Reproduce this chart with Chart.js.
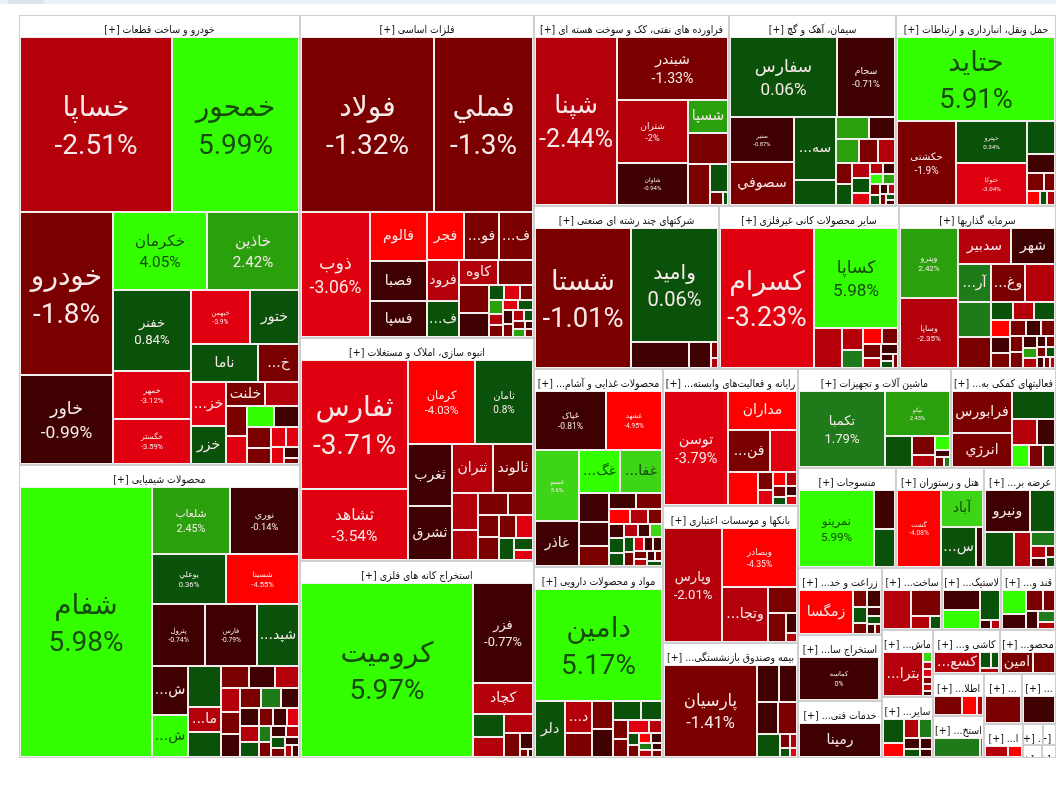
<!DOCTYPE html>
<html><head><meta charset="utf-8">
<script src="https://cdn.jsdelivr.net/npm/chart.js@4.4.1/dist/chart.umd.min.js"></script>
<style>
html,body{margin:0;padding:0;background:#fff;}
#wrap{position:relative;width:1056px;height:785px;overflow:hidden;}
#band{position:absolute;left:0;top:0;width:1056px;height:4px;background:#edf2f7;}
#band2{position:absolute;left:8px;top:0;width:36px;height:4px;background:#dde5ee;}
canvas{position:absolute;left:0;top:0;}
</style></head><body>
<div id="wrap"><canvas id="c" width="1056" height="785"></canvas><div id="band"></div><div id="band2"></div></div>
<script>
// ---------------- DATA ----------------
const sectorNames = ['خودرو و ساخت قطعات','محصولات شیمیایی','فلزات اساسی','انبوه سازی، املاک و مستغلات','استخراج کانه های فلزی',
 'فراورده های نفتی، کک و سوخت هسته ای','سیمان، آهک و گچ','حمل ونقل، انبارداری و ارتباطات','شرکتهای چند رشته ای صنعتی','سایر محصولات کانی غیرفلزی',
 'سرمایه گذاریها','محصولات غذایی و آشامیدنی به جز قند و شکر','مواد و محصولات دارویی','رایانه و فعالیت‌های وابسته به آن','بانکها و موسسات اعتباری',
 'بیمه وصندوق بازنشستگی به جز تامین اجتماعی','ماشین آلات و تجهیزات','فعالیتهای کمکی به نهادهای مالی واسط','منسوجات','هتل و رستوران',
 'عرضه برق، گاز، بخاروآب گرم','زراعت و خدمات وابسته','استخراج سایر معادن','خدمات فنی و مهندسی','ساخت محصولات فلزی',
 'لاستیک و پلاستیک','قند و شکر','ماشین آلات و دستگاههای برقی','سایر واسطه گریهای مالی','کاشی و سرامیک',
 'محصولات کاغذی','اطلاعات و ارتباطات','استخراج نفت گاز و خدمات جنبی جز اکتشاف','تولید محصولات کامپیوتری الکترونیکی و نوری','فعالیت های هنری، سرگرمی و خلاقانه',
 'انتشار، چاپ و تکثیر','حمل و نقل آبی','خدمات','سایر','محصولات چوبی'];
const sectorValues = [126600,82200,75500,52200,46200,37150,31800,30400,30060,29400,25600,25500,24600,18630,18495,15525,15200,10500,9700,8800,
 7200,5600,5500,4750,3720,3700,3400,3380,3111,2928,2440,2150,2140,1891,1715,1323,414,270,252,180];

const s1n = ['خساپا','خمحور','خودرو','خاور','خکرمان','خاذین','خفنر','خمهر','خگستر','خبهمن','ختور','ناما','خشرق','خزامیا','خزر','خلنت'];
const s1v = [26300,21970,15000,8190,7220,7070,6225,3675,3525,3120,2600,2500,1530,1480,1290,924,812,625,609,551,525,483,399,300,247,228,165,99];
const s1c = [-2.51,5.99,-1.8,-0.99,4.05,2.42,0.84,-3.12,-3.59,-3.9,0.45,0.3,-1.5,-3.4,0.6,-1.6,-2.5,-1.5,-3.5,5.2,-0.5,-1.5,-1.4,-3.2,-3.3,-3.1,-0.6,-1.2];

const s2n = ['شفام','شلعاب','نوري','بوعلي','شسینا','پترول','فارس','شپدیس','شیراز','شگویا','','مارون'];
const s2v = [34432,5056,4416,3621,3550,3266,3124,2596,1748,1472,1288,806,780,598,540,500,440,420,418,418,380,352,342,300,280,260,240,220,200,180,160,150,140,120,100,90,80];
const s2c = [5.98,2.45,-0.14,0.36,-4.55,-0.74,-0.79,0.5,-0.6,5.1,0.4,-2.6,0.3,-1.4,-0.5,-2.4,-2.2,-1.6,-0.7,-1.3,1.4,-0.4,-0.3,-2.7,0.2,-1.1,-0.8,-3.6,1.2,-1.7,-0.2,-2.3,0.7,-1.9,-0.9,-2.8,-0.5];

const s3n = ['فولاد','فملي','ذوب','فالوم','فصبا','فسپا','فجر','فولاي','فنورد','فرود','فسازان','کاوه'];
const s3v = [22308,16731,8256,2646,2160,1944,1710,1620,1575,1302,1116,945,840,805,682,225,225,200,180,160,150,144,144,132,120,110,100,90,80,70,60];
const s3c = [-1.32,-1.3,-3.06,-4.4,-0.6,-0.7,-4.2,-1.6,-1.5,-2.3,0.4,-2.2,-1.5,-1.4,-0.5,0.6,-3.5,-1.5,2.4,-2.5,-1.2,-3.1,0.3,-0.8,-1.6,-2.2,0.5,-1.1,2.2,-0.4,-1.9];

const s4n = ['ثفارس','ثشاهد','کرمان','ثامان','ثغرب','ثشرق','ثتران','ثالوند'];
const s4v = [13208,7280,5360,4720,2604,2226,1930,1927,925,750,630,525,440,440,374,374,308,220,180];
const s4c = [-3.71,-3.54,-4.03,0.8,-0.6,-0.55,-2.4,-1.6,-2.3,-2.6,-1.4,-1.3,-1.5,-1.2,-1.7,-3.3,0.4,0.6,-3.4];

const s5n = ['کرومیت','فزر','کچاد'];
const s5v = [29575,6014,1860,713,620,551,360,208,70,40];
const s5c = [5.97,-0.77,-2.2,0.5,-2.4,-2.1,-1.5,-0.4,-1.3,-0.9];

const s6n = ['شپنا','شبندر','شتران','شاوان','شسپا'];
const s6v = [13114,6660,4278,2829,1312,1189,861,486,156,65];
const s6c = [-2.44,-1.33,-2,-0.94,2.4,-1.5,-1.6,0.5,-1.4,0.3];

const s7n = ['سفارس','سجام','سنیر','سصوفي','سهگمت'];
const s7v = [8056,4408,2700,2580,2520,960,680,540,506,418,396,308,308,255,255,204,140,130,130,117,100,90,80,70,60,50,40];
const s7c = [0.06,-0.71,-0.87,-1.5,0.4,0.5,2.3,-0.6,2.2,-1.6,-2.6,-1.4,0.4,-2.5,0.7,-3.2,-2.2,-0.4,4.5,2.1,-1.5,0.3,-0.7,-2.1,-1.2,0.8,-0.3];

const s8n = ['حتاید','حکشتی','حپترو','حتوکا'];
const s8v = [12874,4756,2930,2920,888,504,300,200,160,100,100];
const s8c = [5.91,-1.9,0.34,-3.04,0.5,-0.6,-1.3,-1.6,-4.5,0.4,-2.2];

const s9n = ['شستا','وامید'];
const s9v = [12878,9460,1400,525,105,63];
const s9c = [-1.01,0.06,-0.5,-0.6,-1.5,-2.5];

const s10n = ['کسرام','کساپا'];
const s10v = [12604,8064,1080,462,357,288,256,234,162,160,80,77,70];
const s10c = [-3.23,5.98,-2.4,-2.6,1.5,-4.3,-1.5,-1.4,-2.3,-0.5,-0.4,0.5,-1.2];

const s11n = ['وپترو','وساپا','سدبیر','شهر','آریان','وغدیر'];
const s11v = [3760,3720,1794,1472,1209,1196,1092,1092,943,360,345,342,288,270,252,234,225,195,195,192,156,135,120,100,91,90,80,70,60,50];
const s11c = [2.42,-2.35,-2.2,-0.6,1.3,-1.5,-2.4,1.4,-1.6,0.5,-2.2,0.4,-4.2,-0.6,-1.3,-1.6,-0.5,-1.5,-1.7,-1.4,-0.5,2.3,-2.2,-0.8,-1.3,-1.4,0.6,-0.7,-1.1,-2.3];

const s12n = ['غپاک','غشهد','غمینو','غاذر','غگلستا','غفارس'];
const s12v = [3990,3135,2911,1845,1681,1680,841,696,580,416,416,288,252,200,198,195,182,180,160,150,143,140,120,117,110,100,90,80,70,60];
const s12c = [-0.81,-4.95,3.6,-0.5,4.2,3.3,-0.6,-0.5,-1.5,-0.7,-1.6,-4.4,-2.4,-1.3,-0.5,0.5,0.4,-2.6,-0.6,3.4,0.6,-1.5,-3.3,-0.4,-0.9,-1.2,-2.1,-0.3,-1.8,0.2];

const s13n = ['دامین','دلر','دسبحا'];
const s13v = [13104,1539,800,600,551,532,486,378,255,255,240,150,130,120,110,100,90,80,70,60];
const s13c = [5.17,0.5,-2.6,-1.5,-1.6,-0.6,0.5,0.4,-1.4,-1.7,-3.2,-2.5,0.6,-1.3,-4.2,-0.7,1.5,-2.2,-0.5,-1.2];

const s14n = ['توسن','مداران','فن افزار'];
const s14v = [6771,2516,1640,1066,924,255,221,180,150,120,105,105,100];
const s14c = [-3.79,-5.68,-1.6,-3.4,-4.3,-1.5,-3.2,-4.4,-2.2,-1.4,0.4,-0.6,-3.3];

const s15n = ['وپارس','وبصادر','وتجارت'];
const s15v = [6160,4088,2332,700,468,208,100];
const s15c = [-2.01,-4.35,-2.9,-1.5,-1.6,-0.6,-2.4];

const s16n = ['پارسیان','دانا'];
const s16v = [7740,736,621,621,576,486,130,100,80,60];
const s16c = [-1.41,-0.6,-0.5,-0.7,-1.5,0.5,-1.4,-2.6,0.4,-3.3];

const s17n = ['تکمبا','تپکو'];
const s17v = [6150,2752,806,403,276,187,100,80,60];
const s17c = [1.79,2.43,0.5,-1.5,-2.5,4.6,-0.4,-1.3,1.1];

const s18n = ['فرابورس','انرژي'];
const s18v = [2337,1938,1148,615,425,375,289,255];
const s18c = [-1.28,-1.5,0.5,-2.5,-0.6,4.3,-1.4,0.4];

const s19n = ['نمرینو'];  const s19v = [5475,740,740];  const s19c = [5.99,-0.6,0.5];
const s20n = ['گشت','آباد','سمگا'];  const s20v = [3116,1435,1326,234];  const s20c = [-4.08,3.4,0.5,-0.6];
const s21n = ['ونیرو'];  const s21v = [1665,900,888,528,288,154,121,90,88];  const s21c = [-0.6,0.4,0.5,-2.5,1.4,-2.4,-0.5,-1.5,0.5];
const s22n = ['زمگسا'];  const s22v = [2254,238,224,224,154,112,98,77,60];  const s22c = [-5.98,-1.5,-0.5,0.5,-1.6,-0.6,0.4,-0.5,-1.2];
const s23n = ['کماسه'];  const s23v = [3157,82];  const s23c = [0,-2.5];
const s24n = ['رمپنا'];  const s24v = [2133];  const s24c = [-0.09];
const s25n = [];  const s25v = [936,660,228,120];  const s25c = [-2.6,-1.5,-2.4,0.5];
const s26n = [];  const s26v = [595,590,494,81,72];  const s26c = [-0.6,4.5,0.5,-0.5,-2.5];
const s27n = [];  const s27v = [420,280,272,190,176,140,98];  const s27c = [4.4,-0.6,-1.5,-1.4,-0.7,1.3,-2.5];
const s28n = ['بترانس'];  const s28v = [1634,81,63,63,63,63,40];  const s28c = [-2.7,3.3,-2.5,-3.2,-1.5,-2.4,-0.5];
const s29n = [];  const s29v = [418,247,234,198,140,110,98,77];  const s29c = [0.5,-4.5,-2.6,1.5,-0.6,0.4,-0.5,-0.7];
const s30n = ['کسعدی'];  const s30v = [1073,195,130,117];  const s30c = [-2.6,0.5,0.6,-2.4];
const s31n = ['امین'];  const s31v = [777,518];  const s31c = [-1.6,-1.5];
const s32n = [];  const s32v = [672,345,135];  const s32c = [-1.5,-4.5,-2.5];
const s33n = [];  const s33v = [540,30];  const s33c = [1.3,2.5];
const s34n = [];  const s34v = [285];  const s34c = [-1.5];
const s35n = [];  const s35v = [704];  const s35c = [-0.6];
const s36n = [];  const s36v = [308,198];  const s36c = [-2.5,-4.5];
const s37n = [];  const s37v = [];  const s37c = [];
const s38n = [];  const s38v = [];  const s38c = [];
const s39n = [];  const s39v = [];  const s39c = [];
const s40n = [];  const s40v = [];  const s40c = [];

// ---------------- BUILD ----------------
const sectorCells = [
 [s1n,s1v,s1c],[s2n,s2v,s2c],[s3n,s3v,s3c],[s4n,s4v,s4c],[s5n,s5v,s5c],[s6n,s6v,s6c],[s7n,s7v,s7c],[s8n,s8v,s8c],
 [s9n,s9v,s9c],[s10n,s10v,s10c],[s11n,s11v,s11c],[s12n,s12v,s12c],[s13n,s13v,s13c],[s14n,s14v,s14c],[s15n,s15v,s15c],
 [s16n,s16v,s16c],[s17n,s17v,s17c],[s18n,s18v,s18c],[s19n,s19v,s19c],[s20n,s20v,s20c],[s21n,s21v,s21c],[s22n,s22v,s22c],
 [s23n,s23v,s23c],[s24n,s24v,s24c],[s25n,s25v,s25c],[s26n,s26v,s26c],[s27n,s27v,s27c],[s28n,s28v,s28c],[s29n,s29v,s29c],
 [s30n,s30v,s30c],[s31n,s31v,s31c],[s32n,s32v,s32c],[s33n,s33v,s33c],[s34n,s34v,s34c],[s35n,s35v,s35c],[s36n,s36v,s36c],
 [s37n,s37v,s37c],[s38n,s38v,s38c],[s39n,s39v,s39c],[s40n,s40v,s40c]
];

const W = 1037, H = 743, HEADER = 22, PCT_MIN = 2650;
const LATIN = 'Roboto, "DejaVu Sans", sans-serif';
const ARAB = '"DejaVu Sans", sans-serif';
const HEAD_FONT = '10.5px "DejaVu Sans Condensed", "DejaVu Sans", sans-serif';

function colorFor(p){
  if (p >= 4) return '#33ff00';
  if (p >= 3) return '#3dd516';
  if (p >= 2) return '#2aa00c';
  if (p >= 1) return '#1f7a1a';
  if (p > 0) return '#0a520a';
  if (p > -1) return '#3e0000';
  if (p > -2) return '#7a0000';
  if (p > -3) return '#b3000b';
  if (p > -4) return '#e0000f';
  return '#ff0000';
}

function sortedIdx(vals){ return vals.map((v,i)=>i).sort((a,b)=>vals[b]-vals[a] || a-b); }

function squarify(values, x0, y0, x1, y1){
  const n = values.length, rects = new Array(n);
  let value = values.reduce((a,b)=>a+b,0), i0 = 0;
  while (i0 < n){
    const dx = x1-x0, dy = y1-y0;
    let i1 = i0, sum = values[i1++];
    let minV = sum, maxV = sum;
    const alpha = Math.max(dy/dx, dx/dy)/value;
    let beta = sum*sum*alpha;
    let minRatio = Math.max(maxV/beta, beta/minV);
    for (; i1 < n; ++i1){
      const v = values[i1];
      sum += v;
      if (v < minV) minV = v;
      if (v > maxV) maxV = v;
      beta = sum*sum*alpha;
      const r = Math.max(maxV/beta, beta/minV);
      if (r > minRatio){ sum -= v; break; }
      minRatio = r;
    }
    if (dx < dy){
      const yy = value ? y0 + dy*sum/value : y1;
      let xx = x0; const k = sum ? dx/sum : 0;
      for (let i=i0;i<i1;i++){ const nx = (i===i1-1) ? x1 : xx + values[i]*k; rects[i] = [xx,y0,nx,yy]; xx = nx; }
      y0 = yy;
    } else {
      const xx = value ? x0 + dx*sum/value : x1;
      let yy = y0; const k = sum ? dy/sum : 0;
      for (let i=i0;i<i1;i++){ const ny = (i===i1-1) ? y1 : yy + values[i]*k; rects[i] = [x0,yy,xx,ny]; yy = ny; }
      x0 = xx;
    }
    value -= sum; i0 = i1;
  }
  return rects;
}

function fitHeader(ctx, name, maxW){
  let t = name + ' [+]';
  if (ctx.measureText(t).width <= maxW) return t;
  for (let k = name.length-1; k > 0; k--){
    t = name.slice(0,k).trim() + '... [+]';
    if (ctx.measureText(t).width <= maxW) return t;
  }
  return '... [+]';
}
function fitName(ctx, name, maxW){
  if (ctx.measureText(name).width <= maxW) return name;
  for (let k = name.length-1; k > 0; k--){
    const t = name.slice(0,k).trim() + '...';
    if (ctx.measureText(t).width <= maxW) return t;
  }
  return '';
}

function drawLabel(ctx, name, value, chg, x0, y0, x1, y1){
  if (!name) return;
  const w = x1-x0, h = y1-y0, cx = (x0+x1)/2, cy = (y0+y1)/2;
  ctx.save();
  ctx.beginPath(); ctx.rect(x0,y0,w,h); ctx.clip();
  ctx.fillStyle = chg >= 3.8 ? '#174a0e' : '#f7e9e9';
  ctx.textAlign = 'center'; ctx.textBaseline = 'middle';
  if (value >= PCT_MIN){
    let f = Math.min(28, Math.max(5.5, value/470));
    const pct = chg + '%';
    ctx.font = f + 'px ' + LATIN;
    ctx.direction = 'rtl';
    const tw1 = ctx.measureText(name).width;
    ctx.direction = 'ltr';
    const tw2 = ctx.measureText(pct).width;
    const tw = Math.max(tw1, tw2);
    if (tw > w-6) f = f*(w-6)/tw;
    if (f*2.5 > h) f = h/2.5;
    ctx.font = f + 'px ' + LATIN;
    ctx.direction = 'rtl'; ctx.fillText(name, cx, cy - 0.55*f);
    ctx.direction = 'ltr'; ctx.fillText(pct, cx, cy + 0.8*f);
  } else if (h >= 16){
    ctx.fillStyle = chg >= 3 ? '#174a0e' : '#f7e9e9';
    ctx.font = '14px ' + ARAB;
    ctx.direction = 'rtl';
    const t = fitName(ctx, name, w-2);
    if (t) ctx.fillText(t, cx, cy);
  }
  ctx.restore();
}

const treemapPlugin = {
  id: 'treemapCells',
  afterDatasetsDraw(chart){
    const ctx = chart.ctx, xs = chart.scales.x, ys = chart.scales.y;
    const PX = v => Math.round(xs.getPixelForValue(v));
    const PY = v => Math.round(ys.getPixelForValue(v));
    const order = sortedIdx(sectorValues);
    const rects = squarify(order.map(i=>sectorValues[i]), 0, 0, W, H);
    order.forEach((si, k) => {
      const [a,b,c,d] = rects[k];
      const x0 = PX(a), y0 = PY(b), x1 = PX(c), y1 = PY(d);
      ctx.save();
      ctx.fillStyle = '#ffffff'; ctx.fillRect(x0, y0, x1-x0, y1-y0);
      ctx.strokeStyle = '#cfcfcf'; ctx.lineWidth = 1;
      ctx.strokeRect(x0+0.5, y0+0.5, x1-x0-1, y1-y0-1);
      ctx.beginPath(); ctx.rect(x0+1, y0+1, x1-x0-2, Math.min(HEADER, y1-y0)-2); ctx.clip();
      ctx.font = HEAD_FONT; ctx.fillStyle = '#111'; ctx.textAlign = 'center';
      ctx.textBaseline = 'alphabetic'; ctx.direction = 'rtl';
      ctx.fillText(fitHeader(ctx, sectorNames[si], x1-x0-4), (x0+x1)/2, y0+18);
      ctx.restore();
      const [names, vals, chgs] = sectorCells[si];
      if (!vals.length || d-b <= HEADER+3) return;
      const bx0 = a+1, by0 = b+HEADER, bx1 = c-1, by1 = d-1;
      ctx.fillStyle = '#f4eded';
      ctx.fillRect(PX(bx0), PY(by0), PX(bx1)-PX(bx0), PY(by1)-PY(by0));
      const ord = sortedIdx(vals);
      const cr = squarify(ord.map(i=>vals[i]), bx0, by0, bx1, by1);
      ord.forEach((ci, j) => {
        const r = cr[j];
        const cx0 = PX(r[0])+1, cy0 = PY(r[1])+1, cx1 = PX(r[2])-1, cy1 = PY(r[3])-1;
        if (cx1 <= cx0 || cy1 <= cy0) return;
        ctx.fillStyle = colorFor(chgs[ci]);
        ctx.fillRect(cx0, cy0, cx1-cx0, cy1-cy0);
        drawLabel(ctx, names[ci] || '', vals[ci], chgs[ci], cx0, cy0, cx1, cy1);
      });
    });
  }
};

new Chart(document.getElementById('c'), {
  type: 'scatter',
  data: { datasets: [] },
  options: {
    responsive: false, animation: false, devicePixelRatio: 1,
    layout: { padding: { left: 19, top: 15, right: 0, bottom: 27 } },
    plugins: { legend: { display: false }, tooltip: { enabled: false } },
    scales: {
      x: { type: 'linear', display: false, min: 0, max: W },
      y: { type: 'linear', display: false, min: 0, max: H, reverse: true }
    }
  },
  plugins: [treemapPlugin]
});
</script>
</body></html>
